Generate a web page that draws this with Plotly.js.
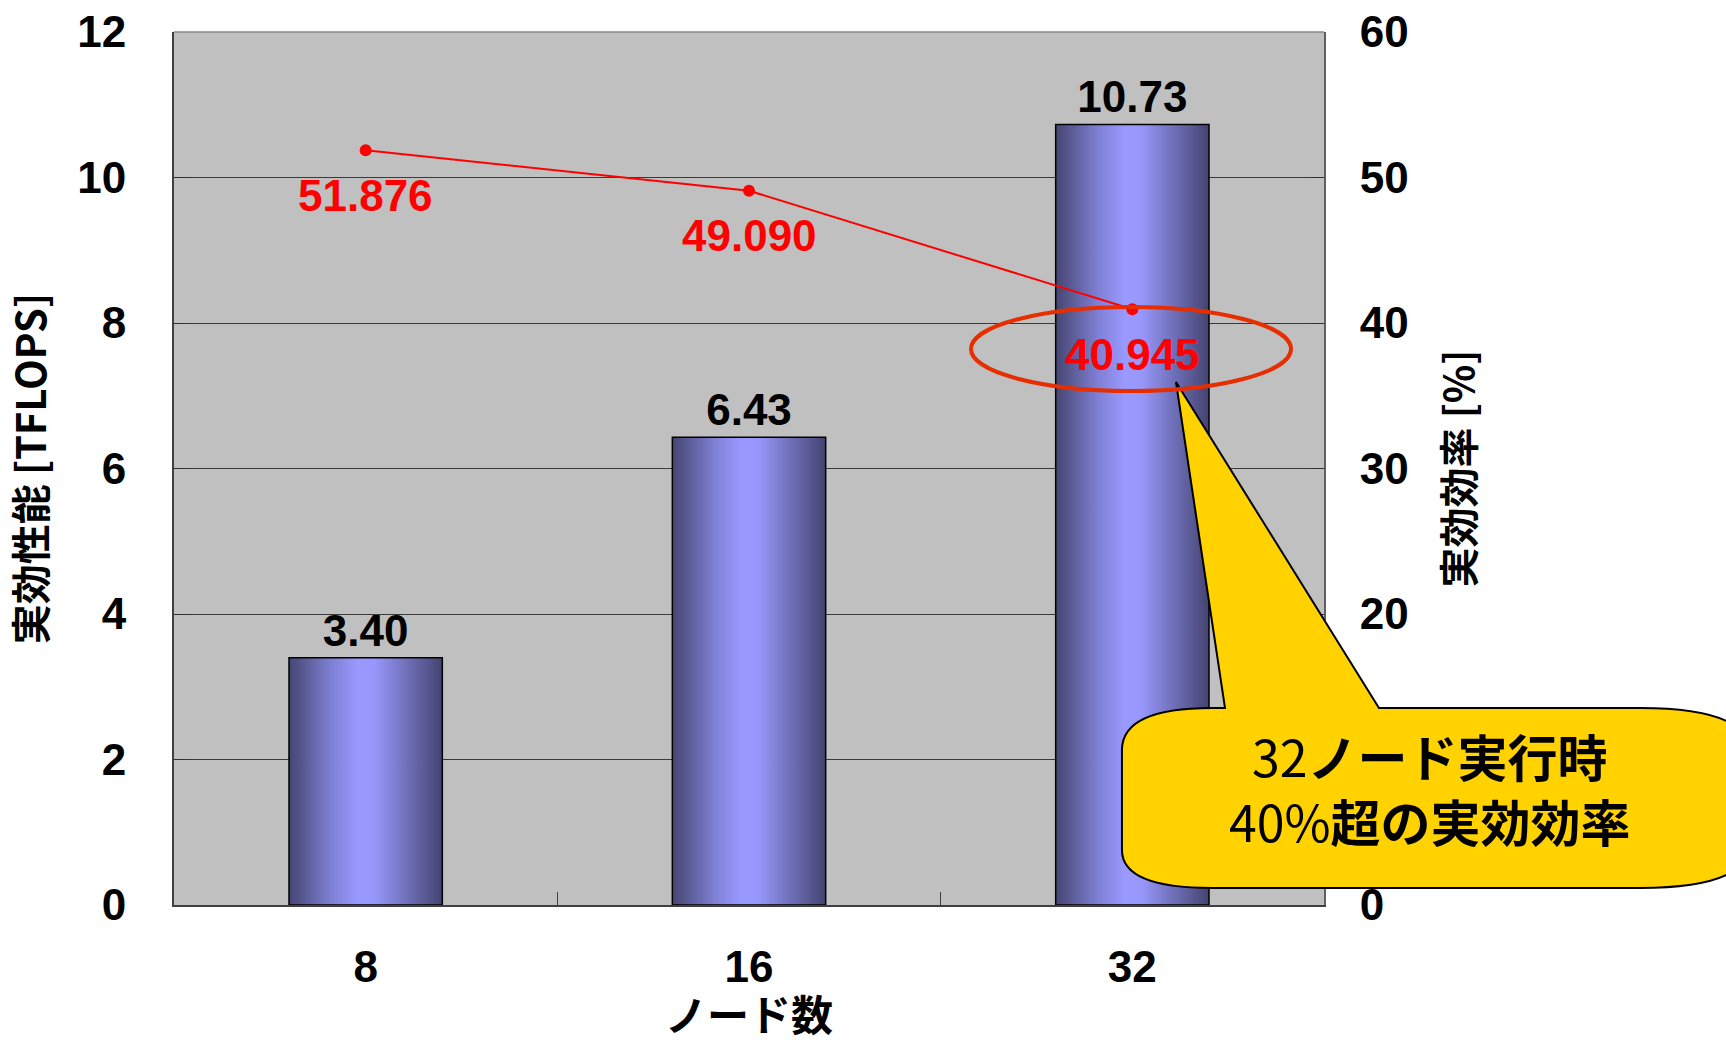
<!DOCTYPE html>
<html>
<head>
<meta charset="utf-8">
<script src="https://cdn.plot.ly/plotly-3.0.1.min.js"></script>
<style>
  html, body { margin: 0; padding: 0; background: #ffffff; }
  #chart { width: 1726px; height: 1042px; }
</style>
</head>
<body>
<div id="chart"></div>
<script>
// Node counts (category axis)
const nodes = ['8', '16', '32'];
// Sustained performance [TFLOPS] per node count
const tflops = [3.40, 6.43, 10.73];
// Sustained efficiency [%] per node count
const efficiency = [51.876, 49.090, 40.945];

const NUM_FONT = 'Liberation Sans, Arial, sans-serif';
const JP_FONT = "'Noto Sans CJK JP', 'Noto Sans CJK SC', sans-serif";

// Plot-area geometry in pixels
const FIG_W = 1726, FIG_H = 1042;
const PL = 174, PR = 1324, PT = 32, PB = 905;
const PW = PR - PL, PH = PB - PT;

// pixel -> paper coordinate helpers for the decorations
const px = x => (x - PL) / PW;
const py = y => (PB - y) / PH;
const pt = (x, y) => px(x).toFixed(4) + ',' + py(y).toFixed(4);

// speech-bubble callout outline
const bubble = [
  'M', pt(1225, 708),
  'L', pt(1176, 382),
  'L', pt(1379, 708),
  'L', pt(1640, 708),
  'Q', pt(1750, 708), pt(1750, 753),
  'L', pt(1750, 843),
  'Q', pt(1750, 888), pt(1640, 888),
  'L', pt(1212, 888),
  'Q', pt(1122, 888), pt(1122, 850),
  'L', pt(1122, 750),
  'Q', pt(1122, 708), pt(1212, 708),
  'Z'
].join(' ');

const barTrace = {
  type: 'bar',
  x: nodes,
  y: tflops,
  marker: { color: '#9999ff', line: { color: '#000000', width: 1.5 } },
  text: tflops.map(v => v.toFixed(2)),
  texttemplate: '%{text}',
  textposition: 'outside',
  constraintext: 'none',
  cliponaxis: false,
  textfont: { family: NUM_FONT, size: 44, color: '#000000', weight: 'bold' },
  hoverinfo: 'skip',
  showlegend: false
};

const lineTrace = {
  type: 'scatter',
  mode: 'lines+markers',
  x: nodes,
  y: efficiency,
  yaxis: 'y2',
  line: { color: '#ff0000', width: 2 },
  marker: { color: '#ff0000', size: 12 },
  cliponaxis: false,
  hoverinfo: 'skip',
  showlegend: false
};

// efficiency value labels, set just below each point (x = category index)
const effLabels = nodes.map((n, i) => ({
  xref: 'x', yref: 'y2',
  x: i, y: efficiency[i],
  yshift: -45,
  xanchor: 'center', yanchor: 'middle',
  showarrow: false,
  text: efficiency[i].toFixed(3),
  font: { family: NUM_FONT, size: 44, color: '#ff0000', weight: 'bold' }
}));

const layout = {
  width: FIG_W,
  height: FIG_H,
  margin: { l: PL, r: FIG_W - PR, t: PT, b: FIG_H - PB, pad: 0 },
  paper_bgcolor: '#ffffff',
  plot_bgcolor: '#c0c0c0',
  bargap: 0.6,
  showlegend: false,
  xaxis: {
    type: 'category',
    categoryorder: 'array',
    categoryarray: nodes,
    range: [-0.5, nodes.length - 0.5],
    showline: true,
    linecolor: '#404040',
    linewidth: 2,
    ticks: 'inside',
    tickson: 'boundaries',
    ticklen: 13,
    tickcolor: '#404040',
    tickfont: { family: NUM_FONT, size: 44, color: '#000000', weight: 'bold' },
    ticklabelstandoff: 22,
    showgrid: false,
    zeroline: false
  },
  yaxis: {
    range: [0, 12],
    dtick: 2,
    showline: true,
    linecolor: '#404040',
    linewidth: 2,
    ticks: 'inside',
    ticklen: 13,
    tickcolor: '#303030',
    showgrid: true,
    gridcolor: '#3a3a3a',
    gridwidth: 1,
    zeroline: false,
    tickfont: { family: NUM_FONT, size: 44, color: '#000000', weight: 'bold' },
    ticklabelstandoff: 37,
    title: {
      text: '実効性能 [TFLOPS]',
      font: { family: JP_FONT, size: 40, color: '#000000', weight: 'bold' },
      standoff: 31
    }
  },
  yaxis2: {
    overlaying: 'y',
    side: 'right',
    range: [0, 60],
    dtick: 10,
    showline: true,
    linecolor: '#606060',
    linewidth: 2,
    ticks: 'inside',
    ticklen: 13,
    tickcolor: '#303030',
    showgrid: false,
    zeroline: false,
    tickfont: { family: NUM_FONT, size: 44, color: '#000000', weight: 'bold' },
    ticklabelstandoff: 25,
    title: {
      text: '実効効率 [%]',
      font: { family: JP_FONT, size: 40, color: '#000000', weight: 'bold' },
      standoff: 38
    }
  },
  shapes: [
    {
      type: 'line', xref: 'paper', yref: 'paper',
      x0: 0, x1: 1, y0: 1, y1: 1,
      line: { color: '#888888', width: 1.5 }
    },
    {
      type: 'path', xref: 'paper', yref: 'paper', layer: 'above',
      path: bubble,
      fillcolor: '#ffd200',
      line: { color: '#000000', width: 2 }
    },
    {
      type: 'circle', xref: 'paper', yref: 'paper', layer: 'above',
      x0: px(971), x1: px(1291), y0: py(391), y1: py(307),
      fillcolor: 'rgba(0,0,0,0)',
      line: { color: '#e62e00', width: 4 }
    }
  ],
  annotations: effLabels.concat([
    {
      // x-axis title, sitting low at the bottom edge of the figure
      xref: 'paper', yref: 'paper',
      x: 0.5, y: py(980),
      xanchor: 'center', yanchor: 'top',
      showarrow: false,
      text: 'ノード数',
      font: { family: JP_FONT, size: 42, color: '#000000', weight: 'bold' }
    },
    {
      xref: 'paper', yref: 'paper',
      x: px(1430), y: py(787),
      xanchor: 'center', yanchor: 'middle',
      showarrow: false,
      align: 'center',
      text: '32<b>ノード実行時</b><br>40%<b>超の実効効率</b>',
      font: { family: JP_FONT, size: 50, color: '#000000' }
    }
  ])
};

Plotly.newPlot('chart', [barTrace, lineTrace], layout, { displayModeBar: false, staticPlot: true })
  .then(gd => {
    // cylinder-like horizontal shading for the bars
    const ns = 'http://www.w3.org/2000/svg';
    const svg = gd.querySelector('svg.main-svg');
    let defs = svg.querySelector('defs');
    if (!defs) { defs = document.createElementNS(ns, 'defs'); svg.insertBefore(defs, svg.firstChild); }
    const grad = document.createElementNS(ns, 'linearGradient');
    grad.setAttribute('id', 'barShade');
    grad.setAttribute('x1', '0'); grad.setAttribute('y1', '0');
    grad.setAttribute('x2', '1'); grad.setAttribute('y2', '0');
    [
      [0.00, '#454573'],
      [0.10, '#5a5a94'],
      [0.28, '#8080d6'],
      [0.45, '#9999ff'],
      [0.56, '#9797fb'],
      [0.74, '#7575c2'],
      [0.90, '#575790'],
      [1.00, '#434370']
    ].forEach(([o, c]) => {
      const s = document.createElementNS(ns, 'stop');
      s.setAttribute('offset', o);
      s.setAttribute('stop-color', c);
      grad.appendChild(s);
    });
    defs.appendChild(grad);
    gd.querySelectorAll('.barlayer .point path').forEach(p => {
      p.style.fill = 'url(#barShade)';
    });
  });
</script>
</body>
</html>
